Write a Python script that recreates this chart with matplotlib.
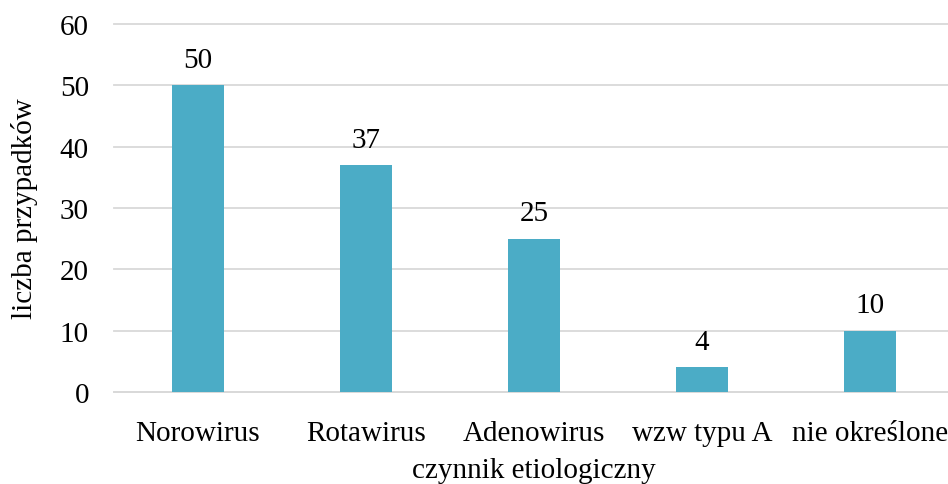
import matplotlib
matplotlib.use("Agg")
import matplotlib.pyplot as plt

categories = ["Norowirus", "Rotawirus", "Adenowirus", "wzw typu A", "nie określone"]
cases = [50, 37, 25, 4, 10]
y_ticks = [0, 10, 20, 30, 40, 50, 60]

plt.rcParams['font.family'] = ['Liberation Serif', 'DejaVu Serif']
fs = 21

fig = plt.figure(figsize=(9.48, 4.85), dpi=100)
ax = fig.add_axes([114 / 948, 1 - 393 / 485, 840 / 948, 368 / 485])

x = range(len(categories))
bars = ax.bar(x, cases, width=0.315, color="#4bacc6", zorder=3)

for b, v in zip(bars, cases):
    ax.annotate(str(v), (b.get_x() + b.get_width() / 2, v), xytext=(0, 9),
                textcoords="offset points", ha="center", va="bottom", fontsize=fs)

ax.set_xlim(-0.5, len(categories) - 0.5)
ax.set_ylim(0, 60)
ax.set_yticks(y_ticks)
ax.set_xticks(list(x))
ax.set_xticklabels(categories)
ax.tick_params(axis="both", length=0, labelsize=fs)
ax.tick_params(axis="y", pad=18)
ax.tick_params(axis="x", pad=20)
ax.grid(axis="y", color="#d9d9d9", linewidth=1.3, zorder=0)
ax.set_axisbelow(True)
for s in ["top", "right", "left"]:
    ax.spines[s].set_visible(False)
ax.spines["bottom"].set_color("#d9d9d9")
ax.spines["bottom"].set_linewidth(1.3)

ax.set_xlabel("czynnik etiologiczny", fontsize=fs, labelpad=8)
ax.set_ylabel("liczba przypadków", fontsize=fs, labelpad=16)

for line in ax.get_ygridlines():
    line.set_clip_on(False)

fig.savefig("out.png", dpi=100)
